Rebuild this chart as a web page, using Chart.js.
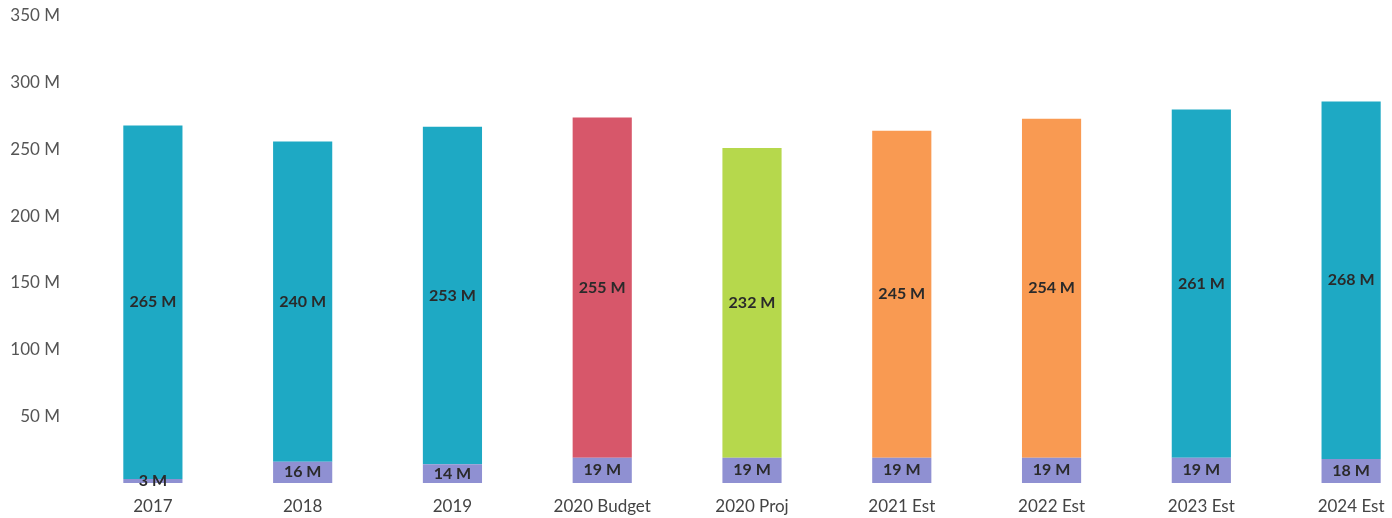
<!DOCTYPE html>
<html>
<head>
<meta charset="utf-8">
<script src="https://cdn.jsdelivr.net/npm/chart.js@4/dist/chart.umd.min.js"></script>
<style>
  html, body { margin: 0; padding: 0; background: #fff; overflow: hidden; }
  #wrap { width: 1392px; height: 518px; overflow: hidden; }
</style>
</head>
<body>
<div id="wrap"><canvas id="c" width="1430" height="518"></canvas></div>
<script>
// Annual totals in millions
const categories = ['2017', '2018', '2019', '2020 Budget', '2020 Proj', '2021 Est', '2022 Est', '2023 Est', '2024 Est'];
const baseValues = [3, 16, 14, 19, 19, 19, 19, 19, 18];
const mainValues = [265, 240, 253, 255, 232, 245, 254, 261, 268];
const mainColors = ['#1ea9c4', '#1ea9c4', '#1ea9c4', '#d7576a', '#b6d84c', '#f99a52', '#f99a52', '#1ea9c4', '#1ea9c4'];
const baseColor = '#8f90d2';
const yTicks = [50, 100, 150, 200, 250, 300, 350];

const FONT = 'Lato, "Open Sans", sans-serif';

// Draws each segment's value, centred inside the segment
const segmentLabels = {
  id: 'segmentLabels',
  afterDatasetsDraw(chart) {
    const ctx = chart.ctx;
    ctx.save();
    ctx.font = 'bold 16px ' + FONT;
    ctx.fillStyle = '#2a2a2a';
    ctx.textAlign = 'center';
    ctx.textBaseline = 'middle';
    chart.data.datasets.forEach((ds, di) => {
      chart.getDatasetMeta(di).data.forEach((bar, i) => {
        const p = bar.getProps(['x', 'y', 'base'], true);
        ctx.fillText(ds.data[i] + ' M', p.x, (p.y + p.base) / 2);
      });
    });
    ctx.restore();
  }
};

new Chart(document.getElementById('c'), {
  type: 'bar',
  data: {
    labels: categories,
    datasets: [
      { data: baseValues, backgroundColor: baseColor, barPercentage: 0.395, categoryPercentage: 1 },
      { data: mainValues, backgroundColor: mainColors, barPercentage: 0.395, categoryPercentage: 1 }
    ]
  },
  options: {
    responsive: false,
    animation: false,
    layout: { padding: { top: 16, right: 4, left: 0, bottom: 0 } },
    plugins: { legend: { display: false }, tooltip: { enabled: false } },
    scales: {
      x: {
        stacked: true,
        grid: { display: false },
        border: { display: false },
        ticks: { color: '#444', font: { family: FONT, size: 17 }, padding: 5, maxRotation: 0 },
        afterFit(s) { s.height = 35; }
      },
      y: {
        stacked: true,
        min: 0,
        max: 350,
        grid: { display: false },
        border: { display: false },
        afterBuildTicks(s) { s.ticks = yTicks.map(v => ({ value: v })); },
        ticks: {
          color: '#555',
          font: { family: FONT, size: 17 },
          padding: 10,
          callback: v => v + ' M'
        },
        afterFit(s) { s.width = 78; s.paddingTop = 0; s.paddingBottom = 0; }
      }
    }
  },
  plugins: [segmentLabels]
});
</script>
</body>
</html>
